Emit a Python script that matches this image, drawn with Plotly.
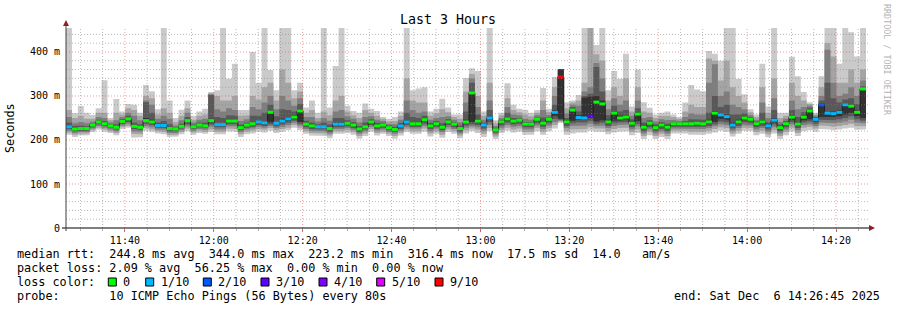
import plotly.graph_objects as go
import pandas as pd

# ---------------- data ----------------
start_time = pd.Timestamp("2025-12-06 11:26:45")
end_time = pd.Timestamp("2025-12-06 14:26:45")
step_seconds = 80

rtt_median = [
    230, 225, 226, 226, 234, 241, 237, 232, 229, 242, 248, 231, 229, 244, 241,
    233, 233, 226, 225, 231, 244, 230, 234, 232, 244, 235, 235, 243, 243, 228,
    234, 237, 241, 239, 263, 238, 243, 248, 252, 266, 236, 232, 230, 230, 226,
    236, 236, 238, 234, 225, 230, 241, 232, 234, 228, 224, 232, 241, 237, 237,
    246, 232, 237, 229, 241, 236, 226, 241, 307, 243, 234, 250, 223, 241, 248,
    243, 245, 236, 236, 247, 238, 247, 263, 343, 241, 268, 251, 250, 254, 286,
    282, 241, 261, 250, 252, 238, 259, 229, 238, 228, 234, 229, 237, 237, 237,
    237, 238, 237, 241, 261, 257, 253, 234, 241, 250, 247, 237, 241, 232, 245,
    228, 237, 252, 236, 252, 266, 247, 280, 261, 260, 263, 280, 277, 263, 316]

rtt_max = [
    470, 261, 277, 262, 257, 272, 336, 250, 293, 265, 282, 280, 262, 325, 311,
    270, 470, 290, 250, 269, 290, 255, 265, 271, 309, 313, 470, 339, 373, 268,
    268, 400, 330, 470, 359, 313, 470, 470, 313, 330, 274, 290, 262, 470, 274,
    368, 470, 278, 266, 262, 283, 271, 266, 252, 248, 252, 265, 470, 313, 317,
    320, 265, 271, 294, 274, 258, 258, 341, 363, 357, 265, 470, 245, 262, 329,
    280, 271, 269, 262, 268, 318, 271, 343, 361, 286, 290, 302, 470, 470, 416,
    470, 313, 357, 339, 396, 276, 360, 286, 273, 258, 262, 265, 258, 252, 285,
    325, 315, 311, 402, 396, 380, 470, 470, 339, 304, 270, 258, 373, 276, 470,
    262, 262, 389, 345, 309, 286, 262, 345, 470, 470, 373, 470, 445, 390, 470]

rtt_p9 = [
    268, 250, 255, 248, 248, 262, 262, 245, 262, 258, 272, 268, 255, 300, 295,
    258, 272, 262, 240, 255, 272, 246, 255, 258, 306, 300, 290, 290, 300, 255,
    256, 300, 292, 320, 330, 290, 360, 330, 295, 310, 262, 268, 250, 265, 256,
    290, 300, 265, 256, 250, 268, 262, 255, 248, 242, 243, 255, 340, 290, 285,
    285, 255, 260, 270, 263, 252, 248, 310, 350, 300, 255, 330, 238, 256, 295,
    268, 263, 258, 254, 262, 290, 264, 320, 361, 272, 285, 290, 330, 470, 395,
    380, 290, 320, 300, 340, 265, 320, 265, 262, 250, 255, 255, 252, 248, 265,
    280, 275, 275, 385, 380, 335, 380, 320, 300, 285, 263, 252, 320, 262, 340,
    250, 255, 330, 300, 290, 282, 258, 320, 420, 390, 330, 330, 360, 330, 360]

rtt_p8 = [
    252, 238, 241, 238, 242, 252, 250, 240, 245, 252, 262, 255, 245, 290, 280,
    248, 255, 248, 233, 245, 262, 240, 246, 248, 304, 270, 265, 272, 268, 243,
    247, 275, 270, 285, 300, 270, 300, 290, 278, 295, 252, 252, 242, 250, 244,
    265, 268, 254, 248, 240, 252, 254, 246, 243, 237, 236, 246, 290, 268, 262,
    265, 246, 250, 252, 254, 246, 240, 285, 340, 275, 246, 290, 232, 250, 275,
    258, 256, 248, 246, 256, 268, 257, 300, 361, 260, 280, 278, 310, 320, 375,
    340, 270, 295, 280, 290, 255, 290, 250, 252, 242, 247, 245, 246, 244, 252,
    260, 258, 258, 330, 372, 300, 310, 280, 275, 270, 257, 246, 285, 250, 295,
    241, 248, 290, 270, 275, 278, 255, 300, 405, 330, 300, 305, 320, 300, 335]

rtt_p7 = [
    240, 232, 233, 231, 238, 246, 243, 236, 236, 247, 255, 240, 236, 286, 262,
    240, 243, 236, 229, 237, 252, 235, 240, 240, 302, 252, 250, 256, 255, 235,
    240, 255, 255, 262, 280, 254, 270, 268, 265, 282, 244, 240, 236, 240, 235,
    250, 250, 245, 241, 232, 240, 247, 239, 239, 233, 230, 239, 262, 252, 250,
    255, 239, 243, 238, 247, 241, 233, 265, 330, 258, 240, 268, 228, 246, 262,
    250, 250, 241, 241, 251, 252, 251, 280, 361, 250, 275, 265, 300, 305, 366,
    310, 256, 278, 265, 268, 247, 272, 240, 245, 236, 241, 237, 241, 240, 243,
    247, 247, 246, 262, 300, 275, 280, 258, 258, 260, 252, 242, 262, 241, 268,
    235, 243, 268, 252, 263, 273, 252, 290, 330, 295, 285, 292, 295, 282, 322]

rtt_p6 = [
    233, 228, 229, 228, 236, 243, 239, 234, 231, 244, 250, 233, 231, 250, 246,
    235, 236, 228, 227, 233, 247, 232, 236, 234, 248, 238, 238, 246, 246, 230,
    236, 240, 244, 242, 266, 241, 248, 252, 256, 270, 239, 235, 232, 233, 229,
    240, 240, 241, 237, 228, 233, 244, 235, 236, 230, 227, 235, 245, 241, 241,
    249, 235, 240, 232, 244, 238, 229, 246, 310, 247, 237, 254, 225, 243, 252,
    246, 247, 238, 238, 249, 241, 249, 268, 361, 245, 271, 256, 296, 298, 300,
    290, 246, 265, 255, 256, 242, 263, 233, 241, 232, 237, 233, 239, 239, 240,
    240, 241, 240, 246, 266, 261, 258, 240, 246, 254, 250, 240, 245, 236, 250,
    231, 240, 256, 240, 256, 269, 250, 283, 265, 265, 268, 284, 281, 268, 318]

rtt_p5 = [
    228, 223, 224, 224, 232, 239, 235, 230, 227, 240, 245, 229, 227, 241, 238,
    231, 231, 224, 223, 229, 241, 228, 232, 230, 240, 233, 233, 240, 240, 226,
    232, 234, 238, 236, 240, 235, 239, 244, 248, 241, 233, 229, 228, 228, 223,
    233, 233, 235, 231, 222, 228, 238, 229, 231, 225, 222, 229, 238, 234, 234,
    242, 229, 234, 226, 238, 233, 223, 238, 241, 239, 231, 246, 221, 237, 244,
    240, 242, 233, 233, 243, 234, 243, 255, 248, 237, 244, 246, 246, 250, 242,
    245, 237, 244, 245, 247, 234, 243, 225, 234, 225, 230, 225, 234, 234, 234,
    234, 235, 234, 237, 241, 248, 246, 231, 237, 245, 243, 233, 237, 228, 240,
    224, 233, 246, 232, 245, 247, 242, 252, 252, 252, 254, 258, 262, 254, 250]

rtt_p4 = [
    225, 220, 221, 221, 229, 236, 232, 227, 224, 237, 241, 225, 223, 237, 234,
    228, 227, 220, 220, 226, 236, 225, 229, 227, 235, 229, 229, 236, 236, 222,
    228, 230, 234, 232, 236, 231, 235, 239, 244, 237, 229, 225, 224, 224, 219,
    229, 229, 231, 227, 218, 224, 234, 225, 228, 222, 218, 225, 234, 230, 230,
    237, 225, 230, 222, 234, 229, 219, 233, 236, 234, 226, 240, 217, 233, 239,
    235, 237, 229, 229, 238, 230, 238, 248, 246, 232, 238, 240, 240, 244, 237,
    239, 232, 238, 240, 241, 229, 237, 220, 229, 220, 225, 220, 230, 230, 230,
    230, 231, 230, 232, 236, 242, 240, 226, 232, 240, 238, 229, 232, 224, 235,
    220, 229, 241, 227, 240, 242, 237, 246, 246, 245, 247, 250, 254, 247, 244]

rtt_p3 = [
    221, 216, 218, 218, 226, 232, 228, 224, 220, 233, 237, 220, 219, 232, 229,
    224, 223, 216, 216, 222, 231, 221, 225, 223, 230, 224, 224, 231, 231, 218,
    224, 226, 230, 228, 232, 227, 230, 234, 239, 233, 225, 221, 220, 220, 215,
    225, 225, 227, 223, 214, 220, 230, 221, 224, 218, 214, 221, 229, 226, 226,
    232, 220, 226, 218, 229, 225, 215, 228, 231, 229, 221, 234, 213, 228, 234,
    230, 232, 224, 224, 233, 225, 233, 241, 244, 227, 232, 233, 233, 237, 232,
    233, 227, 232, 234, 235, 224, 231, 215, 224, 215, 220, 215, 226, 226, 226,
    225, 226, 225, 227, 231, 236, 234, 221, 227, 234, 233, 224, 227, 219, 229,
    215, 224, 235, 222, 234, 236, 232, 240, 239, 238, 240, 242, 246, 240, 238]

rtt_p2 = [
    217, 212, 214, 215, 222, 228, 224, 220, 216, 229, 232, 214, 213, 227, 224,
    220, 218, 212, 212, 218, 226, 217, 221, 219, 224, 219, 219, 226, 225, 213,
    219, 221, 225, 223, 227, 222, 225, 228, 234, 228, 220, 216, 215, 215, 210,
    220, 220, 222, 218, 209, 215, 225, 216, 219, 214, 209, 216, 224, 220, 220,
    226, 215, 220, 212, 224, 220, 210, 222, 226, 223, 214, 227, 208, 222, 228,
    224, 226, 218, 218, 227, 219, 227, 234, 242, 220, 224, 225, 225, 229, 226,
    226, 220, 225, 227, 228, 218, 224, 209, 218, 209, 214, 209, 221, 221, 221,
    219, 220, 219, 221, 225, 229, 227, 215, 221, 228, 227, 218, 221, 213, 222,
    209, 218, 228, 216, 228, 230, 226, 233, 232, 230, 232, 234, 237, 232, 231]

rtt_min = [
    212, 207, 210, 211, 218, 224, 219, 216, 211, 225, 228, 205, 206, 221, 219,
    215, 213, 207, 208, 213, 220, 212, 216, 214, 218, 213, 213, 220, 219, 207,
    213, 215, 219, 217, 221, 216, 219, 222, 228, 222, 214, 210, 209, 209, 204,
    214, 214, 216, 212, 203, 209, 219, 210, 214, 209, 203, 210, 218, 214, 214,
    219, 208, 214, 205, 218, 214, 204, 215, 220, 216, 207, 220, 202, 216, 221,
    217, 219, 212, 212, 220, 212, 220, 226, 240, 212, 215, 217, 217, 221, 219,
    218, 213, 217, 219, 220, 211, 216, 202, 211, 202, 207, 202, 215, 215, 215,
    212, 213, 212, 214, 217, 221, 219, 208, 214, 221, 220, 211, 214, 206, 215,
    202, 211, 220, 209, 220, 222, 219, 225, 224, 222, 224, 226, 228, 223, 224]

# lost pings (out of 10) per step
loss_count = [
    1, 0, 0, 0, 0, 0, 0, 0, 0, 0, 0, 0, 0, 0, 0,
    1, 1, 0, 0, 0, 0, 0, 0, 0, 0, 1, 1, 0, 0, 0,
    0, 0, 1, 1, 0, 1, 1, 1, 0, 0, 0, 0, 1, 1, 0,
    1, 1, 0, 0, 0, 0, 0, 0, 0, 0, 0, 1, 1, 0, 0,
    0, 0, 0, 0, 0, 0, 0, 0, 0, 0, 1, 1, 0, 0, 0,
    0, 0, 0, 0, 0, 0, 0, 1, 9, 0, 0, 1, 1, 3, 0,
    0, 0, 0, 0, 0, 0, 0, 0, 0, 0, 0, 0, 0, 0, 0,
    0, 0, 0, 0, 0, 1, 1, 1, 0, 0, 0, 0, 0, 1, 1,
    0, 0, 0, 0, 0, 0, 1, 2, 1, 1, 1, 1, 0, 0, 0]

loss_levels = [0, 1, 2, 3, 4, 5, 9]
loss_labels = ["0", "1/10", "2/10", "3/10", "4/10", "5/10", "9/10"]
loss_colors = ["#00ff00", "#00b8ff", "#0059ff", "#5e00ff", "#7e00ff", "#dd00ff", "#ff0000"]

y_tick_values = [0, 100, 200, 300, 400]
y_tick_labels = ["0", "100 m", "200 m", "300 m", "400 m"]

title_text = "Last 3 Hours"
y_title = "Seconds"
side_text = "RRDTOOL / TOBI OETIKER"
stats_line_1 = "median rtt:  244.8 ms avg  344.0 ms max  223.2 ms min  316.4 ms now  17.5 ms sd  14.0   am/s"
stats_line_2 = "packet loss: 2.09 % avg  56.25 % max  0.00 % min  0.00 % now"
loss_line_label = "loss color:"
probe_line = "probe:       10 ICMP Echo Pings (56 Bytes) every 80s"
end_line = "end: Sat Dec  6 14:26:45 2025"

# ---------------- geometry ----------------
W, H = 897, 310
ML, MR, MT, MB = 66, 31, 28, 82
PW, PH = W - ML - MR, H - MT - MB
Y_MAX = 454.5
FONT = "DejaVu Sans Mono"


def fx(px):
    return (px - ML) / PW


def fy(py):
    return (H - MB - py) / PH


def nb(s):
    return s.replace(" ", "\u00a0")


n = len(rtt_median)
for arr in (rtt_max, rtt_p9, rtt_p8, rtt_p7, rtt_p6, rtt_p5, rtt_p4, rtt_p3, rtt_p2, rtt_min, loss_count):
    assert len(arr) == n, len(arr)

step = pd.Timedelta(seconds=step_seconds)
bar_start = [start_time + i * step for i in range(n)]
bar_end = [t + step for t in bar_start]

fig = go.Figure()

# smoke bands (outer light -> inner dark)
bands = [(rtt_min, rtt_max, "#cacaca"), (rtt_p2, rtt_p9, "#a4a4a4"),
         (rtt_p3, rtt_p8, "#7e7e7e"), (rtt_p4, rtt_p7, "#585858"),
         (rtt_p5, rtt_p6, "#323232")]
for lo, hi, col in bands:
    xs, ys = [], []
    for i in range(n):
        xs += [bar_start[i], bar_end[i]]
        ys += [hi[i], hi[i]]
    for i in reversed(range(n)):
        xs += [bar_end[i], bar_start[i]]
        ys += [lo[i], lo[i]]
    fig.add_trace(go.Scatter(x=xs, y=ys, mode="lines", fill="toself", fillcolor=col,
                             line=dict(width=0, color=col), hoverinfo="skip"))

# median step line
fig.add_trace(go.Scatter(x=bar_start + [bar_end[-1]], y=rtt_median + [rtt_median[-1]],
                         mode="lines", line=dict(color="#202020", width=1, shape="hv"),
                         hoverinfo="skip"))

# loss-coloured median segments
for lvl, col in zip(loss_levels, loss_colors):
    xs, ys = [], []
    for i in range(n):
        if loss_count[i] == lvl:
            xs += [bar_start[i], bar_end[i], None]
            ys += [rtt_median[i], rtt_median[i], None]
    if xs:
        fig.add_trace(go.Scatter(x=xs, y=ys, mode="lines", line=dict(color=col, width=3),
                                 hoverinfo="skip", connectgaps=False))

shapes = []
# grid (drawn above the smoke like rrdtool)
for t in pd.date_range("2025-12-06 11:30:00", "2025-12-06 14:25:00", freq="5min"):
    major = t.minute % 20 == 0
    shapes.append(dict(type="line", xref="x", yref="paper", x0=t, x1=t, y0=0, y1=1, layer="above",
                       line=dict(color="rgba(225,60,60,0.5)" if major else "rgba(130,130,130,0.55)",
                                 width=1, dash="1px,2px")))
for v in range(20, 460, 20):
    major = v % 100 == 0
    shapes.append(dict(type="line", xref="paper", yref="y", x0=0, x1=fx(869), y0=v, y1=v, layer="above",
                       line=dict(color="rgba(225,60,60,0.5)" if major else "rgba(130,130,130,0.55)",
                                 width=1, dash="1px,2px")))
# axes with arrows
shapes.append(dict(type="line", xref="paper", yref="paper", x0=fx(62), x1=fx(870), y0=0, y1=0,
                   layer="above", line=dict(color="black", width=1)))
shapes.append(dict(type="line", xref="paper", yref="paper", x0=0, x1=0, y0=fy(231), y1=fy(24),
                   layer="above", line=dict(color="#404040", width=1)))
shapes.append(dict(type="path", xref="paper", yref="paper", layer="above",
                   path=f"M {fx(66)} {fy(20)} L {fx(63)} {fy(26)} L {fx(69)} {fy(26)} Z",
                   fillcolor="#902020", line=dict(width=0)))
shapes.append(dict(type="path", xref="paper", yref="paper", layer="above",
                   path=f"M {fx(875)} {fy(228)} L {fx(869)} {fy(225)} L {fx(869)} {fy(231)} Z",
                   fillcolor="#902020", line=dict(width=0)))

annotations = []


def add_text(text, px, py, size=11.8, anchor="left", color="black", angle=0):
    annotations.append(dict(text=nb(text), xref="paper", yref="paper", x=fx(px), y=fy(py),
                            xanchor=anchor, yanchor="middle", showarrow=False, borderpad=0,
                            textangle=angle, font=dict(family=FONT, size=size, color=color)))


add_text(title_text, 448, 19.5, size=13.3, anchor="center")
add_text(y_title, 10, 128, size=11.8, anchor="center", angle=-90)
add_text(side_text, 887, 60, size=8.4, anchor="center", color="#b4b4b4", angle=90)
add_text(stats_line_1, 16, 254)
add_text(stats_line_2, 16, 268)
add_text(loss_line_label, 16, 282)
add_text(probe_line, 16, 296)
add_text(end_line, 881, 296, anchor="right")

box_left_px = [108.3, 145.7, 203.3, 261.0, 319.0, 376.7, 435.0]
for bx, lab, col in zip(box_left_px, loss_labels, loss_colors):
    shapes.append(dict(type="rect", xref="paper", yref="paper", x0=fx(bx), x1=fx(bx + 8),
                       y0=fy(286), y1=fy(278), fillcolor=col, line=dict(color="black", width=1)))
    add_text(lab, bx + 14, 282)

# y tick labels as plain text right-aligned left of the axis
for v, lab in zip(y_tick_values, y_tick_labels):
    annotations.append(dict(text=nb(lab), xref="paper", yref="y", x=fx(60.5), y=v,
                            xanchor="right", yanchor="middle", showarrow=False, borderpad=0,
                            font=dict(family=FONT, size=10, color="black")))

fig.update_layout(
    width=W, height=H,
    margin=dict(l=ML, r=MR, t=MT, b=MB, pad=0),
    paper_bgcolor="white", plot_bgcolor="white",
    showlegend=False,
    font=dict(family=FONT, size=10, color="black"),
    xaxis=dict(type="date", range=[start_time, end_time], showgrid=False, zeroline=False,
               showline=False, tickformat="%H:%M", tick0="2025-12-06 11:40:00",
               dtick=20 * 60 * 1000, ticks="outside", ticklen=3, tickwidth=1,
               tickcolor="#e06060", tickfont=dict(family=FONT, size=10, color="black"),
               minor=dict(dtick=5 * 60 * 1000, tick0="2025-12-06 11:40:00", ticks="outside",
                          ticklen=2, tickcolor="#b0b0b0", showgrid=False),
               fixedrange=True),
    yaxis=dict(range=[0, Y_MAX], showticklabels=False,
               showgrid=False, zeroline=False, showline=False, ticks="", fixedrange=True),
    shapes=shapes,
    annotations=annotations,
)

fig.write_html("out.html")
